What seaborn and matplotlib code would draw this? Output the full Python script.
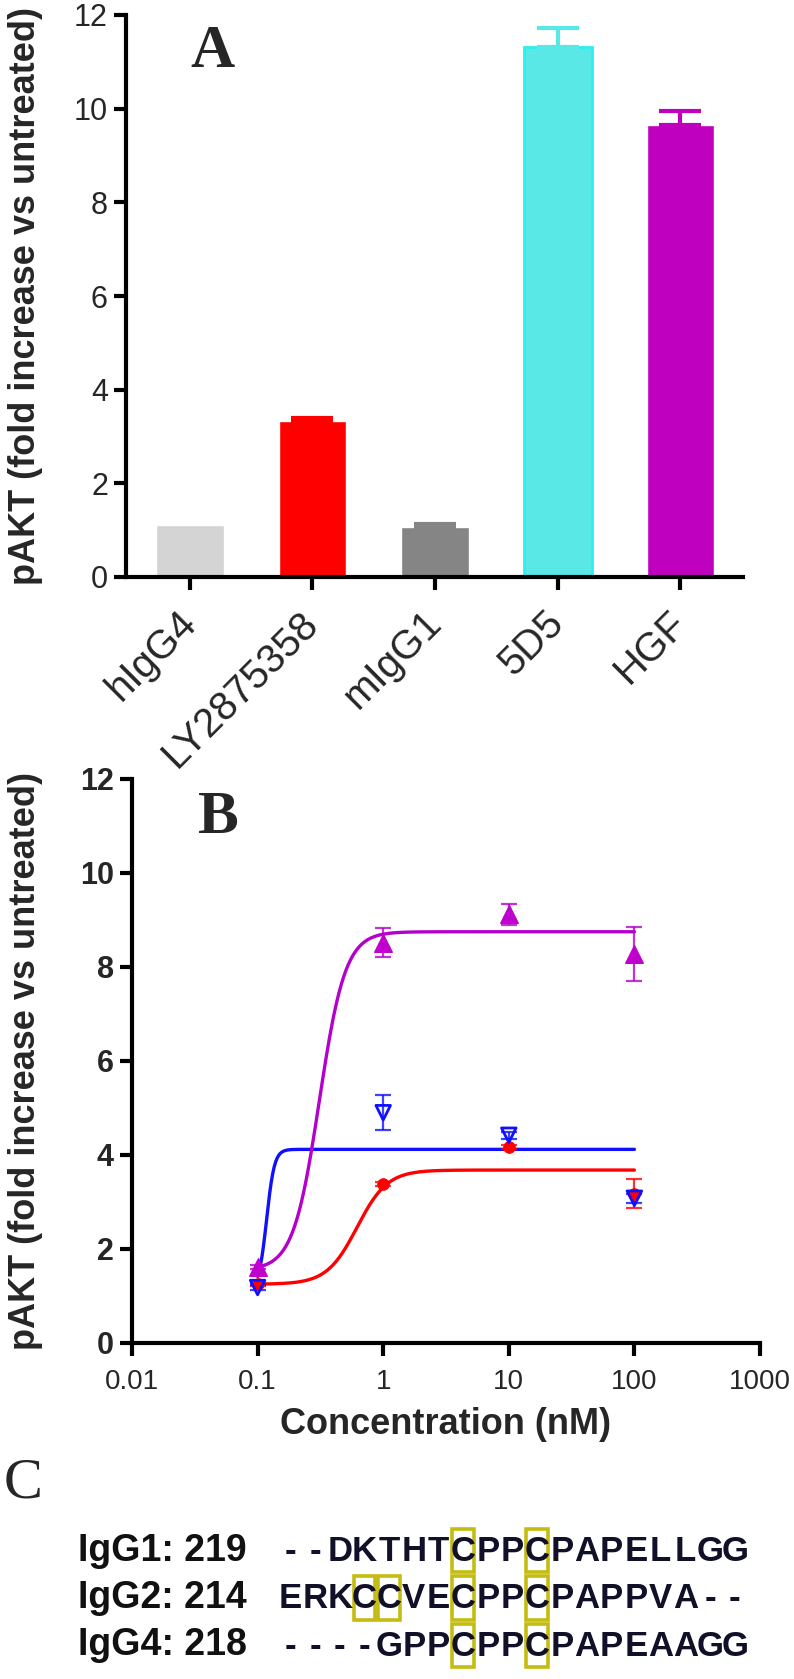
import numpy as np
import pandas as pd
import matplotlib
matplotlib.use("Agg")
import matplotlib.pyplot as plt
from matplotlib.patches import Rectangle
import seaborn as sns

sns.set_style("ticks")
plt.rcParams['font.family'] = ['Liberation Sans', 'DejaVu Sans']

# Panel A: pAKT bar chart
groups = ['hIgG4', 'LY2875358', 'mIgG1', '5D5', 'HGF']
bar_values = [1.11, 3.33, 1.07, 11.31, 9.65]
bar_errors = [0.0, 0.06, 0.06, 0.41, 0.30]
bar_colors = ['#d4d4d4', '#ff0000', '#858585', '#5ae8e6', '#bf00bf']

# Panel B: dose response (mean, sd) at each concentration
conc = [0.1, 1, 10, 100]
hgf_mean = [1.62, 8.52, 9.12, 8.28]
hgf_sd = [0.05, 0.30, 0.23, 0.58]
ly_mean = [1.25, 3.38, 4.17, 3.18]
ly_sd = [0.03, 0.04, 0.05, 0.30]
d5_mean = [1.18, 4.90, 4.42, 3.08]
d5_sd = [0.05, 0.37, 0.08, 0.10]

# fitted sigmoid parameters: bottom, top, EC50, hill slope
hgf_fit = [1.55, 8.75, 0.31, 4.2]
ly_fit = [1.25, 3.68, 0.62, 3.6]
d5_fit = [1.15, 4.12, 0.118, 14.0]

# Panel C: hinge sequences
seq_labels = ['IgG1: 219', 'IgG2: 214', 'IgG4: 218']
seq_rows = ['--DKTHTCPPCPAPELLGG', 'ERKCCVECPPCPAPPVA--', '----GPPCPPCPAPEAAGG']
boxed_cols = [[7, 10], [3, 4, 7, 10], [7, 10]]

W, H = 794, 1679
fig = plt.figure(figsize=(W / 100, H / 100), dpi=100)

def style_axis(ax):
    sns.despine(ax=ax)
    for s in ['left', 'bottom']:
        ax.spines[s].set_linewidth(3)
        ax.spines[s].set_color('black')
    ax.tick_params(width=3, length=9, color='black')

# ---- A ----
ax_a = fig.add_axes([126 / W, 1 - 577 / H, 617 / W, 562 / H])
df_a = pd.DataFrame({'group': groups, 'value': bar_values})
sns.barplot(data=df_a, x='group', y='value', hue='group', palette=bar_colors,
            width=0.55, saturation=1, errorbar=None, legend=False, ax=ax_a)
ax_a.patches[3].set_edgecolor('#2cf0ee')
ax_a.patches[3].set_linewidth(2)
for i, (v, e, c) in enumerate(zip(bar_values, bar_errors, bar_colors)):
    if e > 0:
        ax_a.errorbar(i, v, yerr=[[0], [e]], fmt='none', ecolor=c,
                      elinewidth=3, capsize=15, capthick=3)
ax_a.set_xlim(-0.52, 4.51)
ax_a.set_ylim(0, 12)
ax_a.set_yticks(range(0, 13, 2))
ax_a.set_xlabel('')
ax_a.set_ylabel('pAKT (fold increase vs untreated)', fontsize=26, fontweight='bold')
ax_a.yaxis.set_label_coords(-0.134, 0.5)
style_axis(ax_a)
ax_a.tick_params(axis='y', labelsize=22, pad=4)
ax_a.set_xticks(range(len(groups)))
ax_a.set_xticklabels(groups, fontsize=29, rotation=45, ha='right', va='center',
                     rotation_mode='anchor')
ax_a.tick_params(axis='x', pad=20)
ax_a.text(0.14, 0.935, 'A', transform=ax_a.transAxes, fontsize=44,
          fontweight='bold', family='Liberation Serif', ha='center', va='center')

# ---- B ----
ax_b = fig.add_axes([132 / W, 1 - 1343 / H, 628 / W, 564 / H])
xs = np.logspace(-1, 2, 500)
series = [
    (d5_mean, d5_sd, d5_fit, '#1010ff', 'v'),
    (ly_mean, ly_sd, ly_fit, '#ff0000', 'o'),
    (hgf_mean, hgf_sd, hgf_fit, '#b400cc', '^'),
]
for mean, sd, fit, col, mk in series:
    bottom, top, ec50, hill = fit
    ys = bottom + (top - bottom) / (1 + (ec50 / xs) ** hill)
    sns.lineplot(x=xs, y=ys, color=col, linewidth=2.4, ax=ax_b)
for mean, sd, fit, col, mk in [series[1], series[2], series[0]]:
    ax_b.errorbar(conc, mean, yerr=sd, fmt='none', ecolor=col, elinewidth=1.6,
                  capsize=6, capthick=1.6, alpha=0.8)
    if mk == 'v':
        sns.scatterplot(x=conc, y=mean, marker='v', s=110, facecolor='none',
                        edgecolor=col, linewidth=2, ax=ax_b, zorder=5)
    elif mk == 'o':
        sns.scatterplot(x=conc, y=mean, marker='o', s=70, color=col,
                        edgecolor=col, ax=ax_b, zorder=4)
    else:
        sns.scatterplot(x=conc, y=mean, marker='^', s=160, color='#c000cc',
                        edgecolor='#c000cc', ax=ax_b, zorder=4)
ax_b.set_xscale('log')
ax_b.set_xlim(0.01, 1000)
ax_b.set_ylim(0, 12)
ax_b.set_xticks([0.01, 0.1, 1, 10, 100, 1000])
ax_b.set_xticklabels(['0.01', '0.1', '1', '10', '100', '1000'])
ax_b.xaxis.set_minor_locator(matplotlib.ticker.NullLocator())
ax_b.set_yticks(range(0, 13, 2))
style_axis(ax_b)
ax_b.tick_params(axis='y', labelsize=22, pad=4)
ax_b.tick_params(axis='x', labelsize=20, pad=10)
for lab in ax_b.get_yticklabels():
    lab.set_fontweight('bold')
ax_b.set_xlabel('Concentration (nM)', fontsize=26, fontweight='bold', labelpad=8)
ax_b.set_ylabel('pAKT (fold increase vs untreated)', fontsize=26, fontweight='bold')
ax_b.yaxis.set_label_coords(-0.142, 0.5)
ax_b.text(0.137, 0.93, 'B', transform=ax_b.transAxes, fontsize=44,
          fontweight='bold', family='Liberation Serif', ha='center', va='center')

# ---- C ----
fig.text(4 / W, 1 - 1483 / H, 'C', fontsize=42, family='Liberation Serif',
         ha='left', va='center')
ax_c = fig.add_axes([278 / W, 1 - 1669 / H, 469 / W, 142 / H])
ax_c.set_xlim(-0.5, 18.5)
ax_c.set_ylim(3, 0)
ax_c.axis('off')
for r, (lab, seq, cols) in enumerate(zip(seq_labels, seq_rows, boxed_cols)):
    ax_c.text(-8.6, r + 0.5, lab, fontsize=27, fontweight='bold', ha='left',
              va='center', color='#111111')
    for i, ch in enumerate(seq):
        ax_c.text(i, r + 0.52, ch, fontsize=25, fontweight='bold', ha='center',
                  va='center', color='#101028',
                  family=['Liberation Sans Narrow', 'Liberation Sans'])
    for c in cols:
        ax_c.add_patch(Rectangle((c - 0.44, r + 0.04), 0.88, 0.92, fill=False,
                                 edgecolor='#c4bc10', linewidth=2.6))

fig.savefig('out.png', dpi=100, facecolor='white')
